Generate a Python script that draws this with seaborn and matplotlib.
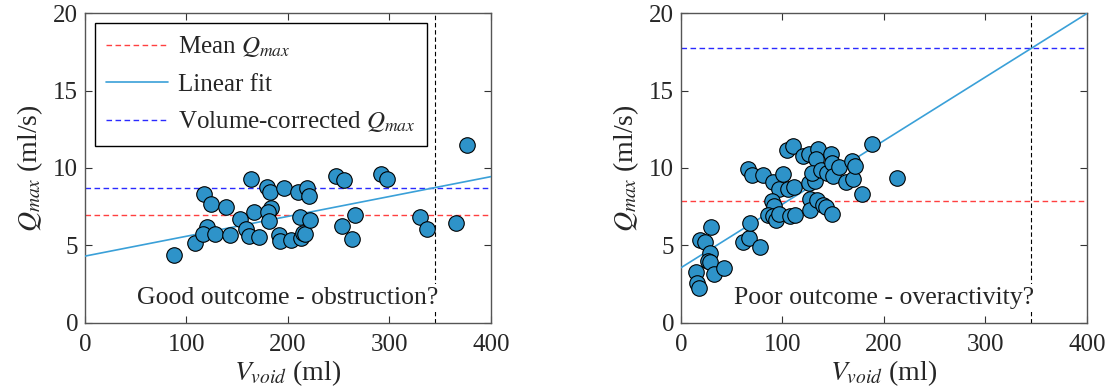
import numpy as np
import pandas as pd
import matplotlib
matplotlib.use("Agg")
import matplotlib.pyplot as plt
import seaborn as sns
from matplotlib.lines import Line2D

# ---------------- data ----------------
good_v = [88, 108, 117, 124, 120, 116, 128, 139, 143, 153, 159, 162, 163.5, 167, 171,
          179, 182, 183, 180.6, 181, 191, 192.5, 196, 203, 210, 212, 212.5, 214.5, 217,
          219, 221, 222, 247, 255, 253, 263, 266, 292, 298, 330, 337, 366, 376]
good_q = [4.37, 5.14, 8.3, 7.67, 6.2, 5.75, 5.7, 7.5, 5.66, 6.73, 6.05, 5.57, 9.3, 7.16, 5.53,
          8.79, 8.45, 7.4, 7.16, 6.56, 5.66, 5.27, 8.73, 5.34, 8.42, 6.84, 5.44, 5.79, 5.7,
          8.73, 8.19, 6.62, 9.45, 9.2, 6.26, 5.42, 6.95, 9.6, 9.28, 6.8, 6.05, 6.45, 11.47]

poor_v = [14.5, 15.8, 17.7, 18.7, 23.6, 29.6, 28.6, 27, 29, 32.5, 42.7, 60.8, 66.7, 68, 77.8,
          66.3, 69.6, 80.5, 90.3, 96.2, 89.7, 91.6, 86, 90.3, 93.6, 96.6, 100.8, 104.7, 110,
          105.7, 111.3, 107.4, 112.6, 119.9, 126.4, 135, 133, 125.8, 131.7, 129.4, 127, 127.4,
          133.7, 139.6, 142.9, 148.8, 138.3, 143.5, 147.5, 149, 150.1, 156, 162.6, 169.2,
          168.8, 171.4, 178.6, 187.9, 212.5]
poor_q = [3.26, 2.57, 2.23, 5.34, 5.19, 6.17, 4.48, 3.99, 3.94, 3.13, 3.56, 5.23, 5.44, 6.47, 4.91,
          9.95, 9.56, 9.54, 9.11, 8.62, 7.87, 7.55, 6.95, 6.9, 6.64, 7.05, 9.6, 11.15, 11.4,
          8.66, 8.75, 6.9, 6.99, 10.8, 10.93, 11.25, 10.59, 9.0, 9.15, 9.69, 7.97, 7.29,
          7.93, 7.63, 7.48, 7.03, 9.86, 9.67, 10.93, 10.33, 9.47, 10.07, 9.11, 9.3,
          10.44, 10.1, 8.3, 11.56, 9.35]

panel_titles = ["Good outcome - obstruction?", "Poor outcome - overactivity?"]
mean_q = [6.95, 7.85]            # mean Qmax (red dashed)
fit_intercept = [4.3, 3.55]      # linear fit
fit_slope = [0.01285, 0.0411]
v_corr = 345                      # volume used for correction

x_ticks = [0, 100, 200, 300, 400]
y_ticks = [0, 5, 10, 15, 20]

# ---------------- style ----------------
sns.set_theme(style="white")
plt.rcParams["font.family"] = ["Liberation Serif", "DejaVu Serif"]
plt.rcParams["mathtext.fontset"] = "stix"

dot_color = "#2e93c9"
fit_color = "#3aa0d8"
red_c = "#ff4040"
blue_c = "#2a2aff"

fig = plt.figure(figsize=(11.08, 3.92), dpi=100)
ax1 = fig.add_axes([0.0767, 0.177, 0.3664, 0.789])
ax2 = fig.add_axes([0.6146, 0.177, 0.3664, 0.789])

datasets = [(good_v, good_q), (poor_v, poor_q)]
for i, ax in enumerate([ax1, ax2]):
    v, q = datasets[i]
    df = pd.DataFrame({"V": v, "Q": q})
    ax.set_xlim(0, 400)
    ax.set_ylim(0, 20)
    xs = np.array(ax.get_xlim())
    ys = fit_intercept[i] + fit_slope[i] * xs
    qc = fit_intercept[i] + fit_slope[i] * v_corr
    ax.axhline(mean_q[i], color=red_c, ls=(0, (4, 2.5)), lw=1.0, zorder=2)
    ax.axhline(qc, color=blue_c, ls=(0, (4, 2.5)), lw=1.0, zorder=2)
    ax.axvline(v_corr, color="black", ls=(0, (4, 2.5)), lw=0.8, zorder=2)
    sns.lineplot(x=xs, y=ys, ax=ax, color=fit_color, lw=1.2, zorder=3)
    sns.scatterplot(data=df, x="V", y="Q", ax=ax, s=125, color=dot_color,
                    edgecolor="black", linewidth=0.8, zorder=4)
    ax.text(200, 1.6, panel_titles[i], ha="center", va="center", fontsize=18.5,
            bbox=dict(facecolor="white", edgecolor="none", pad=2), zorder=5)
    ax.set_xticks(x_ticks)
    ax.set_yticks(y_ticks)
    ax.tick_params(direction="in", length=5, width=0.8, top=True, right=True,
                   bottom=True, left=True, labelsize=18, color="#333333")
    ax.tick_params(axis="x", pad=8)
    ax.tick_params(axis="y", pad=5)
    for sp in ax.spines.values():
        sp.set_color("#555555")
        sp.set_linewidth(1.0)
        sp.set_visible(True)
    ax.set_xlabel("$V_{void}$ (ml)", fontsize=20, labelpad=2)
    ax.set_ylabel("$Q_{max}$ (ml/s)", fontsize=20, labelpad=6)

handles = [Line2D([], [], color=red_c, ls=(0, (4, 2.5)), lw=1.0),
           Line2D([], [], color=fit_color, lw=1.2),
           Line2D([], [], color=blue_c, ls=(0, (4, 2.5)), lw=1.0)]
labels = ["Mean $Q_{max}$", "Linear fit", "Volume-corrected $Q_{max}$"]
leg = ax1.legend(handles, labels, loc="upper left", bbox_to_anchor=(0.024, 0.968),
                 fontsize=18, frameon=True, fancybox=False, edgecolor="black",
                 handlelength=2.5, borderpad=0.45, labelspacing=0.55, handletextpad=0.4,
                 borderaxespad=0, framealpha=1)
leg.get_frame().set_linewidth(1.0)

fig.savefig("out.png", dpi=100)
